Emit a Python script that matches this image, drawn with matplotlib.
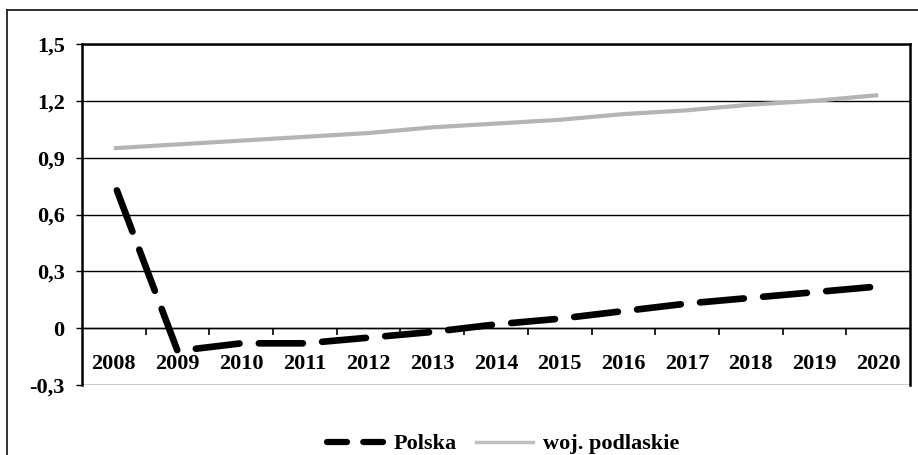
import numpy as np
import matplotlib
matplotlib.use('Agg')
import matplotlib.pyplot as plt
from matplotlib.lines import Line2D

years = ['2008', '2009', '2010', '2011', '2012', '2013', '2014',
         '2015', '2016', '2017', '2018', '2019', '2020']
polska = [0.77, -0.12, -0.08, -0.08, -0.05, -0.02, 0.02,
          0.05, 0.09, 0.13, 0.16, 0.19, 0.22]
podlaskie = [0.95, 0.97, 0.99, 1.01, 1.03, 1.06, 1.08,
             1.10, 1.13, 1.15, 1.18, 1.20, 1.23]
y_ticks = [-0.3, 0, 0.3, 0.6, 0.9, 1.2, 1.5]
y_labels = ['-0,3', '0', '0,3', '0,6', '0,9', '1,2', '1,5']

plt.rcParams['font.family'] = ['Liberation Serif', 'DejaVu Serif']
plt.rcParams['font.weight'] = 'bold'
FS = 16

fig = plt.figure(figsize=(9.18, 4.55), dpi=100)
ax = fig.add_axes([82 / 918, 1 - 385 / 455, 828 / 918, 341 / 455])

x = np.arange(len(years))
ax.plot(x, podlaskie, color='#b4b4b4', lw=3.0, solid_capstyle='butt',
        label='woj. podlaskie', zorder=3)
ax.plot(x, polska, color='black', lw=4.8, linestyle=(8.2, (6.6, 2.9)),
        dash_capstyle='round', label='Polska', zorder=4)

ax.set_xlim(-0.5, len(years) - 0.5)
ax.set_ylim(-0.3, 1.5)
ax.set_yticks(y_ticks)
ax.set_yticklabels(y_labels, fontsize=FS, fontweight='bold')
ax.yaxis.grid(True, color='black', lw=1.0)
ax.set_axisbelow(True)

# category axis drawn on the zero line
ax.spines['bottom'].set_position(('data', 0))
ax.spines['bottom'].set_linewidth(1.0)
for s in ['left', 'right', 'top']:
    ax.spines[s].set_linewidth(1.8)
ax.set_xticks(x[:-1] + 0.5)
ax.set_xticklabels([])
ax.set_xticks(x, minor=True)
ax.set_xticklabels(years, minor=True, fontsize=FS, fontweight='bold')
ax.tick_params(axis='x', which='major', direction='out', length=5, width=1.2)
ax.tick_params(axis='x', which='minor', length=0, pad=18.5)
ax.tick_params(axis='y', direction='out', length=4.5, width=1.0, pad=8)

# legend keys drawn with shorter dashes, as in the original
h_pl = Line2D([], [], color='black', lw=4.5, dashes=(3.2, 2.6),
              dash_capstyle='round', label='Polska')
h_pd = Line2D([], [], color='#c0c0c0', lw=2.5, label='woj. podlaskie')
fig.legend(handles=[h_pl, h_pd], loc='center',
           bbox_to_anchor=(0.548, 1 - 444 / 455), ncol=2, frameon=False,
           prop={'family': 'Liberation Serif', 'weight': 'bold', 'size': FS},
           handlelength=2.55, handletextpad=0.45, columnspacing=0.9)

# outer chart frame (only top and left visible in the crop)
fig.add_artist(Line2D([7 / 918, 7 / 918], [0, 1 - 10 / 455],
                      transform=fig.transFigure, color='#222222', lw=1.3))
fig.add_artist(Line2D([7 / 918, 1], [1 - 10 / 455, 1 - 10 / 455],
                      transform=fig.transFigure, color='#222222', lw=1.3))

fig.savefig('out.png', dpi=100)
